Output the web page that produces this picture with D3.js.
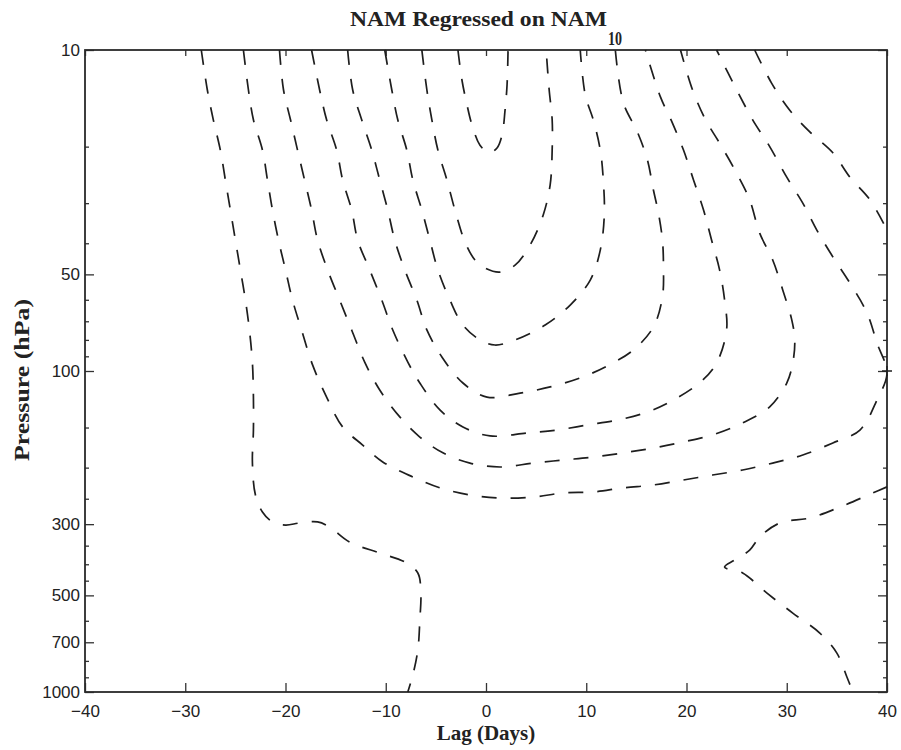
<!DOCTYPE html>
<html>
<head>
<meta charset="utf-8">
<script src="https://cdn.jsdelivr.net/npm/d3@7"></script>
<style>
  body { margin: 0; background: #fff; }
  .tick text { font-family: "Liberation Sans", Arial, sans-serif; font-size: 17px; fill: #222; }
  .tick line { stroke: #333; stroke-width: 1.3; }
</style>
</head>
<body>
<svg id="canvas" width="901" height="750"></svg>
<script>
// NAM regressed on NAM_10 : lag (days) vs pressure (hPa)
// each contour is a list of [lag, pressure] pairs

var lagTicks = [-40, -30, -20, -10, 0, 10, 20, 30, 40];
var pressureLabels = [10, 50, 100, 300, 500, 700, 1000];
var pressureMinor = [20, 30, 40, 60, 70, 80, 90, 150, 200, 250, 350, 400, 450, 600, 800, 900];

var contour1 = [[-2.8,10],[-2.4,12.4],[-1.9,14.8],[-1.4,17.1],[-0.6,19.8],[0.3,20.9],[1.1,20.2],[1.6,18.4],[1.9,15.4],[2.1,12.85],[2.2,10]];

var contour2 = [[-6.4,10],[-5.9,13.3],[-5.4,16.5],[-4.8,20.5],[-3.9,25.4],[-3.1,31.5],[-2.1,39.6],[-1.1,45.1],[-0.1,47.8],[1.4,49.2],[2.9,46.8],[4.4,40.5],[5.7,32.7],[6.4,26.3],[6.6,20.5],[6.6,16.5],[6.3,13.3],[6.0,10]];

var contour3 = [[-10.1,10],[-9.4,13.3],[-8.8,16.5],[-7.9,20.5],[-7.3,25.4],[-6.4,31.5],[-5.6,39.1],[-4.8,48.4],[-3.6,60.1],[-2.3,71.9],[-0.6,80.0],[0.9,83.0],[2.9,80.0],[5.9,71.9],[8.4,62.3],[10.4,52.1],[11.4,42.0],[11.8,32.7],[11.7,25.4],[11.4,20.5],[10.7,16.5],[9.9,13.8],[9.4,10]];

var contour4 = [[-13.8,10],[-13.3,13.3],[-12.4,16.5],[-11.4,20.5],[-10.6,25.4],[-9.8,31.5],[-9.1,39.1],[-8.1,48.4],[-6.9,60.1],[-5.9,74.5],[-4.4,90.4],[-2.3,109.0],[0.1,120.6],[3.4,117.2],[6.4,112.1],[9.4,105.1],[12.1,96.4],[14.7,86.0],[16.7,72.9],[17.6,58.8],[17.7,47.4],[17.6,39.1],[17.2,32.2],[16.7,27.3],[16.1,22.0],[15.1,18.0],[13.7,14.6],[12.9,10]];

var contour5 = [[-17.4,10],[-16.6,13.3],[-15.9,16.5],[-14.9,20.5],[-14.3,25.4],[-13.4,31.5],[-12.8,39.1],[-11.6,48.4],[-10.4,60.1],[-9.3,74.5],[-7.8,93.8],[-6.6,109.0],[-4.6,132.2],[-2.3,149.4],[0.4,159.3],[4.1,156.0],[7.1,152.7],[10.1,147.3],[13.1,142.2],[16.1,134.2],[18.7,123.1],[21.4,108.2],[23.0,94.4],[24.0,74.5],[23.8,60.1],[23.3,48.4],[22.5,39.1],[21.7,31.5],[20.7,25.4],[19.7,20.5],[18.6,16.9],[17.4,14.0],[15.9,10]];

var contour6 = [[-20.6,10],[-20.2,13.3],[-19.5,16.5],[-18.8,20.5],[-18.1,25.4],[-17.4,31.5],[-16.8,39.1],[-15.8,48.4],[-14.6,60.1],[-13.4,74.5],[-12.1,93.8],[-10.6,114.6],[-8.6,139.0],[-6.6,160.6],[-4.3,179.9],[-1.6,193.6],[1.4,199.1],[4.7,193.6],[7.7,189.4],[10.7,185.4],[13.7,179.9],[16.7,173.8],[19.7,166.3],[22.6,158.2],[25.6,145.2],[28.3,129.4],[30.0,109.0],[30.6,94.4],[30.8,80.0],[30.5,69.3],[29.6,55.9],[28.6,45.1],[27.3,37.2],[26.3,29.3],[25.0,24.2],[23.3,19.5],[21.9,16.5],[20.6,13.3],[19.4,10]];

var contour7 = [[-24.2,10],[-23.7,13.3],[-23.2,16.5],[-22.3,20.5],[-21.8,25.4],[-21.3,31.5],[-20.7,39.1],[-20.0,48.4],[-19.3,60.1],[-18.4,74.5],[-17.3,95.7],[-15.9,120.6],[-14.3,149.4],[-12.3,170.1],[-10.3,192.0],[-7.3,213.8],[-4.6,231.2],[-1.6,243.3],[1.4,248.7],[4.7,247.0],[7.7,239.8],[10.7,238.2],[13.7,231.2],[16.7,226.5],[19.7,218.5],[22.6,210.9],[25.6,203.4],[28.6,193.6],[31.6,182.7],[34.6,167.5],[37.3,152.7],[39.0,123.1],[40.0,101.4],[39.0,81.8],[38.0,65.9],[36.3,53.2],[34.6,44.1],[33.0,36.4],[31.6,30.0],[30.0,24.9],[28.3,20.0],[26.6,16.5],[25.0,13.3],[23.0,10]];

var contour8 = [[-28.4,10],[-27.8,13.3],[-27.2,16.5],[-26.5,20.5],[-26.0,25.4],[-25.5,31.5],[-25.0,39.1],[-24.5,48.4],[-24.0,60.1],[-23.6,74.5],[-23.3,94.4],[-23.2,120.6],[-23.2,152.7],[-23.3,193.6],[-23.0,243.3],[-22.3,274.9],[-21.3,295.3],[-20.0,301.9],[-18.6,297.5],[-16.8,295.3],[-15.6,306.3],[-13.6,341.1],[-10.6,369.0],[-8.1,393.6],[-6.8,425.9],[-6.5,491.4],[-6.6,597.0],[-6.8,739.6],[-7.3,885.3],[-7.8,1000]];

var contour8b = [[26.8,10],[28.5,12.7],[30.3,15.4],[32.3,18.0],[34.6,20.9],[36.3,24.9],[38.3,29.3],[40.0,36.4]];

var contour9 = [[40.0,229.6],[38.6,239.8],[35.3,265.4],[32.3,287.0],[29.3,297.5],[27.3,329.0],[26.3,361.3],[24.8,388.1],[23.8,408.3],[25.6,425.9],[28.0,491.4],[30.6,567.7],[33.3,655.2],[35.0,756.4],[36.0,898.1],[36.6,1000]];

var contours = [contour1, contour2, contour3, contour4, contour5, contour6, contour7, contour8, contour8b, contour9];
var markers = [[40, 100]];

drawChart();

function drawChart() {
  var svg = d3.select("#canvas"),
      x0 = 85, x1 = 887, y0 = 50, y1 = 692;

  var x = d3.scaleLinear().domain([-40, 40]).range([x0, x1]);
  var y = d3.scaleLog().domain([10, 1000]).range([y0, y1]);

  function noDomain(g) { g.select(".domain").remove(); }

  // axes (ticks point inward, like matlab)
  svg.append("g")
      .attr("transform", "translate(0," + y1 + ")")
      .call(d3.axisBottom(x).tickValues(lagTicks).tickSize(-9).tickPadding(13))
      .call(noDomain);

  svg.append("g")
      .attr("transform", "translate(0," + y0 + ")")
      .call(d3.axisTop(x).tickValues(lagTicks).tickSize(-6).tickFormat(""))
      .call(noDomain);

  svg.append("g")
      .attr("transform", "translate(" + x0 + ",0)")
      .call(d3.axisLeft(y).tickValues(pressureLabels).tickFormat(d3.format("d")).tickSize(-9).tickPadding(5))
      .call(noDomain);

  svg.append("g")
      .attr("transform", "translate(" + x0 + ",0)")
      .call(d3.axisLeft(y).tickValues(pressureMinor).tickFormat("").tickSize(-4))
      .call(noDomain);

  svg.append("g")
      .attr("transform", "translate(" + x1 + ",0)")
      .call(d3.axisRight(y).tickValues(pressureLabels).tickFormat("").tickSize(-9))
      .call(noDomain);

  svg.append("g")
      .attr("transform", "translate(" + x1 + ",0)")
      .call(d3.axisRight(y).tickValues(pressureMinor).tickFormat("").tickSize(-4))
      .call(noDomain);

  svg.append("rect")
      .attr("x", x0).attr("y", y0)
      .attr("width", x1 - x0).attr("height", y1 - y0)
      .attr("fill", "none")
      .attr("stroke", "#2a2a2a")
      .attr("stroke-width", 1.8);

  // dashed contours
  var line = d3.line()
      .x(function(d) { return x(d[0]); })
      .y(function(d) { return y(d[1]); })
      .curve(d3.curveCatmullRom.alpha(0.5));

  svg.append("g").selectAll("path")
      .data(contours)
      .enter()
      .append("path")
        .attr("d", line)
        .attr("fill", "none")
        .attr("stroke", "#1e1e1e")
        .attr("stroke-width", 1.7)
        .attr("stroke-dasharray", "15,14");

  svg.append("g").selectAll("path")
      .data(markers)
      .enter()
      .append("path")
        .attr("d", function(d) {
          var px = x(d[0]), py = y(d[1]);
          return "M" + (px - 5) + "," + py + "H" + (px + 5) + "M" + px + "," + (py - 5) + "V" + (py + 5);
        })
        .attr("stroke", "#1e1e1e")
        .attr("stroke-width", 1.3);

  // labels
  var serif = "'Liberation Serif', 'Times New Roman', serif";

  var title = svg.append("g")
      .attr("font-family", serif)
      .attr("font-weight", "bold")
      .attr("fill", "#222");
  title.append("text")
      .attr("x", 350).attr("y", 26)
      .attr("font-size", 21)
      .attr("textLength", 257)
      .attr("lengthAdjust", "spacingAndGlyphs")
      .text("NAM Regressed on NAM");
  title.append("text")
      .attr("x", 608).attr("y", 45)
      .attr("font-size", 19)
      .attr("textLength", 14)
      .attr("lengthAdjust", "spacingAndGlyphs")
      .text("10");

  svg.append("text")
      .attr("x", (x0 + x1) / 2).attr("y", 740)
      .attr("text-anchor", "middle")
      .attr("font-family", serif)
      .attr("font-weight", "bold")
      .attr("font-size", 21)
      .attr("fill", "#222")
      .text("Lag (Days)");

  svg.append("text")
      .attr("transform", "translate(29,380) rotate(-90)")
      .attr("text-anchor", "middle")
      .attr("font-family", serif)
      .attr("font-weight", "bold")
      .attr("font-size", 21)
      .attr("fill", "#222")
      .attr("textLength", 162)
      .attr("lengthAdjust", "spacingAndGlyphs")
      .text("Pressure (hPa)");
}
</script>
</body>
</html>
